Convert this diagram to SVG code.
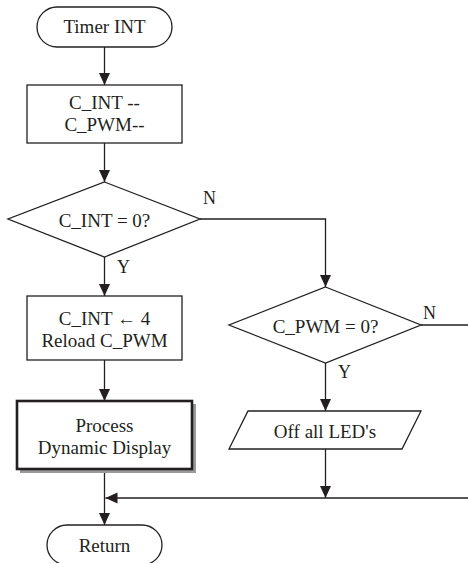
<svg xmlns="http://www.w3.org/2000/svg" width="468" height="563" viewBox="0 0 468 563">
<style>
.s{fill:#fff;stroke:#231f20;stroke-width:1.3}
.t{font-family:"Liberation Serif","Times New Roman",serif;font-size:19px;fill:#231f20;text-anchor:middle}
.l{font-family:"Liberation Serif","Times New Roman",serif;font-size:18px;fill:#231f20}
.c{fill:none;stroke:#231f20;stroke-width:1.3}
</style>
<defs>
<marker id="a" markerUnits="userSpaceOnUse" markerWidth="12" markerHeight="12" refX="12" refY="5.5" orient="auto">
<path d="M0,0 L12,5.5 L0,11 z" fill="#231f20"/>
</marker>
</defs>
<rect width="468" height="563" fill="#fff"/>
<g id="connectors">
<path class="c" d="M104.5,47 V85" marker-end="url(#a)"/>
<path class="c" d="M104.5,143 V182" marker-end="url(#a)"/>
<path class="c" d="M104.5,257 V296" marker-end="url(#a)"/>
<path class="c" d="M104.5,360 V401" marker-end="url(#a)"/>
<path class="c" d="M104.5,469 V525" marker-end="url(#a)"/>
<path class="c" d="M200,219 H325.5 V287" marker-end="url(#a)"/>
<path class="c" d="M325.5,363 V411" marker-end="url(#a)"/>
<path class="c" d="M325.5,449 V498" marker-end="url(#a)"/>
<path class="c" d="M468,498 H105.5" marker-end="url(#a)"/>
<path class="c" d="M421,325 H468"/>
<text class="l" x="203" y="204">N</text>
<text class="l" x="117" y="273">Y</text>
<text class="l" x="423" y="319">N</text>
<text class="l" x="338" y="378">Y</text>
</g>
<g id="start">
<rect class="s" x="37" y="7" width="135" height="40" rx="20"/>
<text class="t" x="104.5" y="33">Timer INT</text>
</g>
<g id="dec">
<rect class="s" x="27" y="85" width="155" height="58"/>
<text class="t" x="104.5" y="109">C_INT --</text>
<text class="t" x="104.5" y="131">C_PWM--</text>
</g>
<g id="cint">
<polygon class="s" points="104.5,182 200,219 104.5,257 8,219"/>
<text class="t" x="104.5" y="227">C_INT = 0?</text>
</g>
<g id="reload">
<rect class="s" x="27" y="296" width="155" height="64"/>
<text class="t" x="104.5" y="325">C_INT  ← 4</text>
<text class="t" x="104.5" y="347">Reload C_PWM</text>
</g>
<g id="process">
<rect x="20" y="404" width="176" height="69" fill="#9a9a9a"/>
<rect x="17" y="401" width="175" height="68" fill="#fff" stroke="#231f20" stroke-width="2.6"/>
<text class="t" x="104.5" y="432">Process</text>
<text class="t" x="104.5" y="454">Dynamic Display</text>
</g>
<g id="cpwm">
<polygon class="s" points="325.5,287 421,325 325.5,363 229,325"/>
<text class="t" x="325.5" y="333">C_PWM = 0?</text>
</g>
<g id="off">
<polygon class="s" points="248,411 421,411 402,449 229,449"/>
<text class="t" x="325" y="438">Off all LED's</text>
</g>
<g id="return">
<rect class="s" x="47" y="525" width="115" height="40" rx="20"/>
<text class="t" x="104.5" y="552">Return</text>
</g>
</svg>
